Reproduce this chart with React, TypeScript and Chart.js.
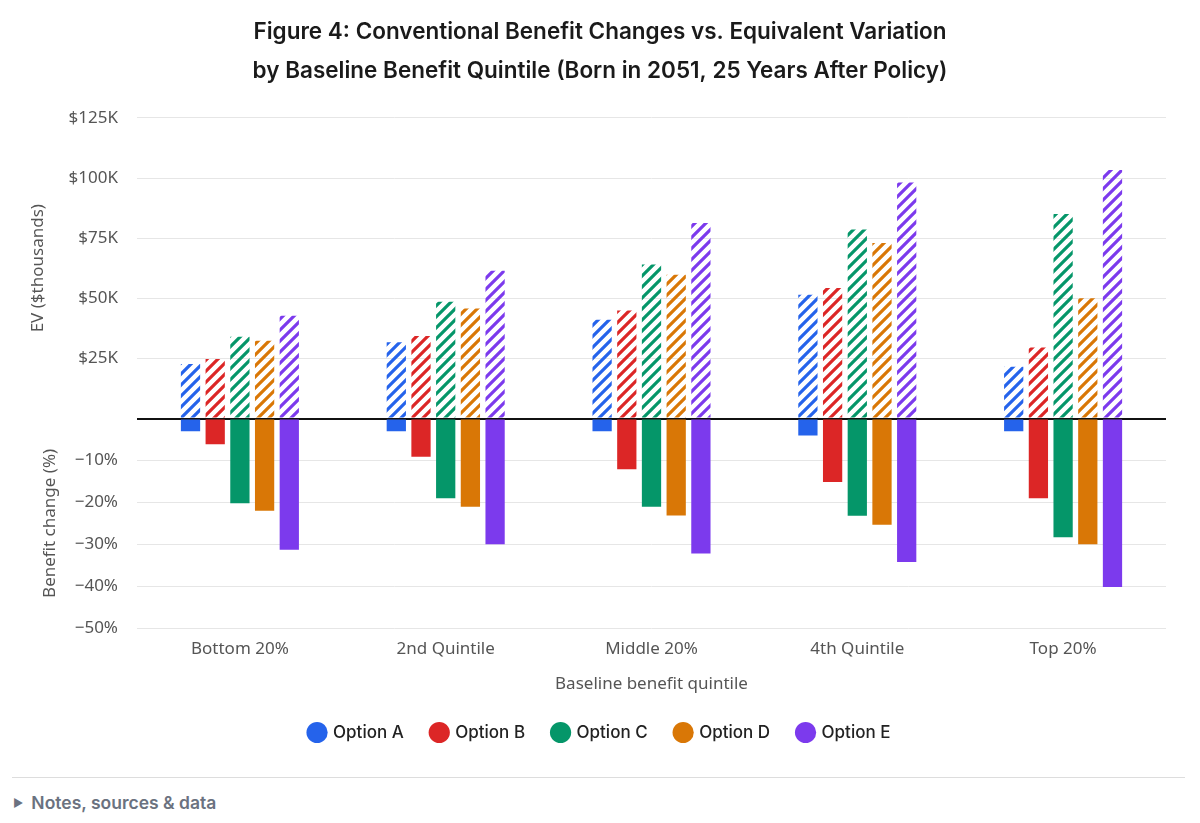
import React, { useEffect, useRef } from "react";
import { Chart, registerables } from "chart.js";

Chart.register(...registerables);

const categories = ["Bottom 20%", "2nd Quintile", "Middle 20%", "4th Quintile", "Top 20%"];
const optionNames = ["Option A", "Option B", "Option C", "Option D", "Option E"];
const optionColors = ["#2563eb", "#dc2626", "#059669", "#d97706", "#7c3aed"];

// EV in $ thousands (hatched, upper panel)
const evA = [22.7, 31.7, 41.1, 51.5, 21.6];
const evB = [24.8, 34.3, 44.9, 54.3, 29.6];
const evC = [34.0, 48.6, 64.1, 78.6, 85.0];
const evD = [32.4, 45.8, 59.8, 73.0, 50.0];
const evE = [42.8, 61.5, 81.3, 98.1, 103.3];

// Conventional benefit change in % (solid, lower panel)
const chA = [-3.0, -3.0, -3.0, -4.0, -3.0];
const chB = [-6.1, -9.1, -12.1, -15.1, -19.0];
const chC = [-20.2, -19.0, -21.0, -23.2, -28.3];
const chD = [-22.0, -21.0, -23.1, -25.3, -30.0];
const chE = [-31.3, -30.0, -32.2, -34.2, -40.2];

const evSeries = [evA, evB, evC, evD, evE];
const chSeries = [chA, chB, chC, chD, chE];

const titleLines = [
  "Figure 4: Conventional Benefit Changes vs. Equivalent Variation",
  "by Baseline Benefit Quintile (Born in 2051, 25 Years After Policy)",
];

function hatch(color: string): CanvasPattern | string {
  const s = 11;
  const c = document.createElement("canvas");
  c.width = s;
  c.height = s;
  const ctx = c.getContext("2d");
  if (!ctx) return color;
  ctx.strokeStyle = color;
  ctx.lineWidth = 3.2;
  ctx.beginPath();
  ctx.moveTo(-1, s + 1);
  ctx.lineTo(s + 1, -1);
  ctx.moveTo(-s / 2 - 1, s / 2 + 1);
  ctx.lineTo(s / 2 + 1, -s / 2 - 1);
  ctx.moveTo(s / 2 - 1, s * 1.5 + 1);
  ctx.lineTo(s * 1.5 + 1, s / 2 - 1);
  ctx.stroke();
  return ctx.createPattern(c, "repeat") || color;
}

export default function App() {
  const ref = useRef<HTMLCanvasElement | null>(null);

  useEffect(() => {
    if (!ref.current) return;
    const tickFont = { family: "'Noto Sans', sans-serif", size: 17 };
    const gridColor = (ctx: any) => (ctx.tick && ctx.tick.value === 0 ? "#111111" : "#e6e6e6");
    const gridWidth = (ctx: any) => (ctx.tick && ctx.tick.value === 0 ? 2 : 1);
    const leftWidth = (scale: any) => {
      scale.width = 121;
    };

    const solid = chSeries.map((d, i) => ({
      label: optionNames[i],
      data: d,
      backgroundColor: optionColors[i],
      borderWidth: 0,
      stack: "s" + i,
      yAxisID: "yBen",
      barPercentage: 0.78,
      categoryPercentage: 0.6,
    }));
    const hatched = evSeries.map((d, i) => ({
      label: optionNames[i] + " EV",
      data: d,
      backgroundColor: hatch(optionColors[i]),
      borderWidth: 0,
      stack: "s" + i,
      yAxisID: "yEV",
      barPercentage: 0.78,
      categoryPercentage: 0.6,
    }));

    const chart = new Chart(ref.current, {
      type: "bar",
      data: { labels: categories, datasets: [...solid, ...hatched] as any },
      options: {
        animation: false,
        responsive: false,
        layout: { padding: { left: 8, right: 8, top: 0, bottom: 0 } },
        plugins: {
          title: {
            display: true,
            text: titleLines,
            color: "#1a1a1a",
            font: { family: "Inter, sans-serif", size: 22.5, weight: 600 as any, lineHeight: 1.73 },
            padding: { top: 5, bottom: 27 },
          },
          legend: {
            position: "bottom",
            labels: {
              usePointStyle: true,
              pointStyle: "circle",
              boxWidth: 15,
              boxHeight: 15,
              padding: 28,
              color: "#222222",
              font: { family: "Inter, sans-serif", size: 17, weight: 500 as any },
              filter: (item: any) => item.datasetIndex < 5,
            },
          },
          tooltip: { enabled: false },
        },
        scales: {
          x: {
            grid: { display: false, drawTicks: false },
            border: { display: false },
            ticks: { color: "#555555", font: tickFont, padding: 11 },
            title: {
              display: true,
              text: "Baseline benefit quintile",
              color: "#555555",
              font: tickFont,
              padding: { top: 3, bottom: 2 },
            },
          },
          yBen: {
            type: "linear",
            position: "left",
            stack: "panel",
            stackWeight: 1,
            min: -50,
            max: 0,
            border: { display: false },
            grid: { drawTicks: false, color: gridColor, lineWidth: gridWidth },
            afterFit: leftWidth,
            ticks: {
              stepSize: 10,
              color: "#555555",
              font: tickFont,
              padding: 19,
              callback: (v: any) => (v === 0 ? "" : "\u2212" + Math.abs(v) + "%"),
            },
            title: {
              display: true,
              text: "Benefit change (%)",
              color: "#555555",
              font: tickFont,
              padding: { top: 24, bottom: 0 },
            },
          },
          yEV: {
            type: "linear",
            position: "left",
            stack: "panel",
            stackWeight: 1.435,
            min: 0,
            max: 125,
            border: { display: false },
            grid: { drawTicks: false, color: gridColor, lineWidth: gridWidth },
            afterFit: leftWidth,
            ticks: {
              stepSize: 25,
              color: "#555555",
              font: tickFont,
              padding: 19,
              callback: (v: any) => (v === 0 ? "" : "$" + v + "K"),
            },
            title: {
              display: true,
              text: "EV ($thousands)",
              color: "#555555",
              font: tickFont,
              padding: { top: 12, bottom: 0 },
            },
          },
          yRightSpace: {
            type: "linear",
            position: "right",
            display: true,
            grid: { display: false, drawTicks: false },
            border: { display: false },
            ticks: { display: false },
            afterFit: (scale: any) => {
              scale.width = 18;
            },
          },
        } as any,
      },
    });
    return () => chart.destroy();
  }, []);

  return (
    <div style={{ width: 1184 }}>
      <canvas ref={ref} width={1184} height={743} style={{ display: "block", width: 1184, height: 743 }} />
      <div style={{ margin: "26px 7px 0 4px", borderTop: "1px solid #dddddd" }} />
      <div
        style={{
          fontFamily: "Inter, sans-serif",
          fontSize: 17.5,
          fontWeight: 600,
          color: "#6b7280",
          marginTop: 14,
          marginLeft: 5,
          display: "flex",
          alignItems: "center",
        }}
      >
        <span style={{ fontSize: 11, marginRight: 8, color: "#6b7280" }}>▶</span>
        <span>Notes, sources &amp; data</span>
      </div>
    </div>
  );
}
